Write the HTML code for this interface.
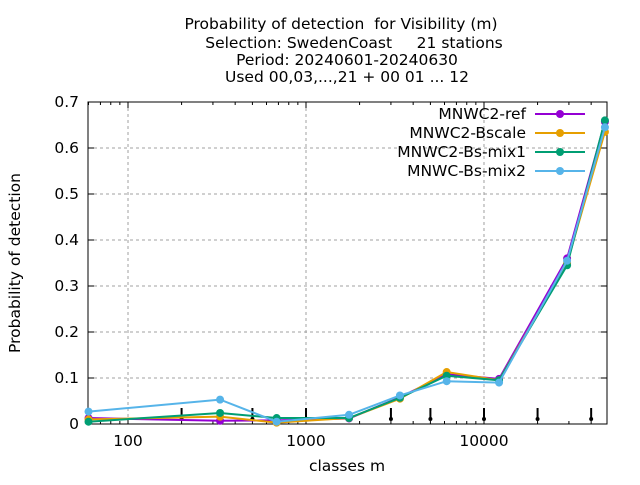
<!DOCTYPE html>
<html><head><meta charset="utf-8"><style>
body{margin:0;background:#fff}
svg text{font-family:"DejaVu Sans","Liberation Sans",sans-serif;fill:#000;white-space:pre}
</style></head><body>
<svg id="chart" width="640" height="480" xmlns="http://www.w3.org/2000/svg">
<g id="title" font-size="15.5" text-anchor="middle">
<text x="341" y="29">Probability of detection  for Visibility (m)</text>
<text x="354" y="48">Selection: SwedenCoast     21 stations</text>
<text x="347" y="65">Period: 20240601-20240630</text>
<text x="347" y="82">Used 00,03,...,21 + 00 01 ... 12</text>
</g>
<text font-size="15.5" text-anchor="middle" transform="translate(20,263) rotate(-90)">Probability of detection</text>
<text font-size="15.5" text-anchor="middle" x="347" y="471">classes m</text>
<g id="grid"></g><g id="axes"></g><g id="marks"></g><g id="legend"></g>
</svg>
<script>
const categories=[60,329,684,1745,3370,6170,12150,29300,47800];
const seriesNames=["MNWC2-ref","MNWC2-Bscale","MNWC2-Bs-mix1","MNWC-Bs-mix2"];
const ref=[0.013,0.007,0.008,0.012,0.058,0.108,0.098,0.36,0.657];
const bscale=[0.01,0.016,0.003,0.013,0.055,0.113,0.095,0.35,0.635];
const mix1=[0.005,0.024,0.013,0.013,0.057,0.105,0.095,0.345,0.66];
const mix2=[0.027,0.053,0.005,0.02,0.062,0.093,0.09,0.355,0.645];
const yTicks=[0,0.1,0.2,0.3,0.4,0.5,0.6,0.7];
const xTicks=[100,1000,10000];
const classBounds=[200,500,1000,3000,5000,10000,20000,40000];
const colors=["#9400d3","#e69f00","#009e73","#56b4e9"];
const L=88,R=607,T=102,B=424,xmin=59.6,xmax=49100,ymax=0.7;
const NS="http://www.w3.org/2000/svg";
const X=v=>L+(Math.log10(v)-Math.log10(xmin))/(Math.log10(xmax)-Math.log10(xmin))*(R-L);
const Y=v=>B-v/ymax*(B-T);
function mk(p,t,a){const e=document.createElementNS(NS,t);for(const k in a)e.setAttribute(k,a[k]);p.appendChild(e);return e;}
const grid=document.getElementById('grid'),axes=document.getElementById('axes'),marks=document.getElementById('marks'),leg=document.getElementById('legend');
yTicks.forEach(v=>{
 if(v>0&&v<ymax){const g=mk(grid,'line',{x1:L,x2:R,y1:Y(v),y2:Y(v),stroke:'#a0a0a0','stroke-dasharray':'3,3'});
 
 }
 mk(axes,'line',{x1:L,x2:L+6,y1:Y(v),y2:Y(v),stroke:'#000'});
 mk(axes,'line',{x1:R,x2:R-6,y1:Y(v),y2:Y(v),stroke:'#000'});
 const t=mk(axes,'text',{x:L-9,y:Y(v)+5,'text-anchor':'end','font-size':15.5});t.textContent=v===0?'0':v.toFixed(1);
 
 
});
xTicks.forEach(v=>{
 const g=mk(grid,'line',{x1:X(v),x2:X(v),y1:T,y2:B,stroke:'#a0a0a0','stroke-dasharray':'3,3'});
 
 
 const t=mk(axes,'text',{x:X(v),y:B+22,'text-anchor':'middle','font-size':15.5});t.textContent=v;
 
 
});
for(let d=10;d<=10000;d*=10)for(let m=1;m<10;m++){const v=d*m;if(v<xmin||v>xmax)continue;const len=m===1?6:3;
 mk(axes,'line',{x1:X(v),x2:X(v),y1:B,y2:B-len,stroke:'#000'});mk(axes,'line',{x1:X(v),x2:X(v),y1:T,y2:T+len,stroke:'#000'});}
const fr=mk(axes,'rect',{x:L,y:T,width:R-L,height:B-T,fill:'none',stroke:'#000'});


classBounds.forEach(v=>{
 const l=mk(axes,'line',{x1:X(v),x2:X(v),y1:B-16,y2:B-5,stroke:'#000','stroke-width':2});
 
 
 mk(axes,'circle',{cx:X(v),cy:B-5,r:2,fill:'#000'});
});
const all=[ref,bscale,mix1,mix2];
all.forEach((s,i)=>{
 const pts=s.map((v,j)=>X(categories[j])+','+Y(v)).join(' ');
 const pl=mk(marks,'polyline',{points:pts,fill:'none',stroke:colors[i],'stroke-width':2});
 
 
 s.forEach((v,j)=>{const c=mk(marks,'circle',{cx:X(categories[j]),cy:Y(v),r:4,fill:colors[i]});
  
  });
 const y=114+i*19;
 const t=mk(leg,'text',{x:526,y:y+5,'text-anchor':'end','font-size':15.5});t.textContent=seriesNames[i];
 
 
 mk(leg,'line',{x1:535,x2:585,y1:y,y2:y,stroke:colors[i],'stroke-width':2});
 mk(leg,'circle',{cx:560,cy:y,r:4,fill:colors[i]});
});
</script>
</body></html>
